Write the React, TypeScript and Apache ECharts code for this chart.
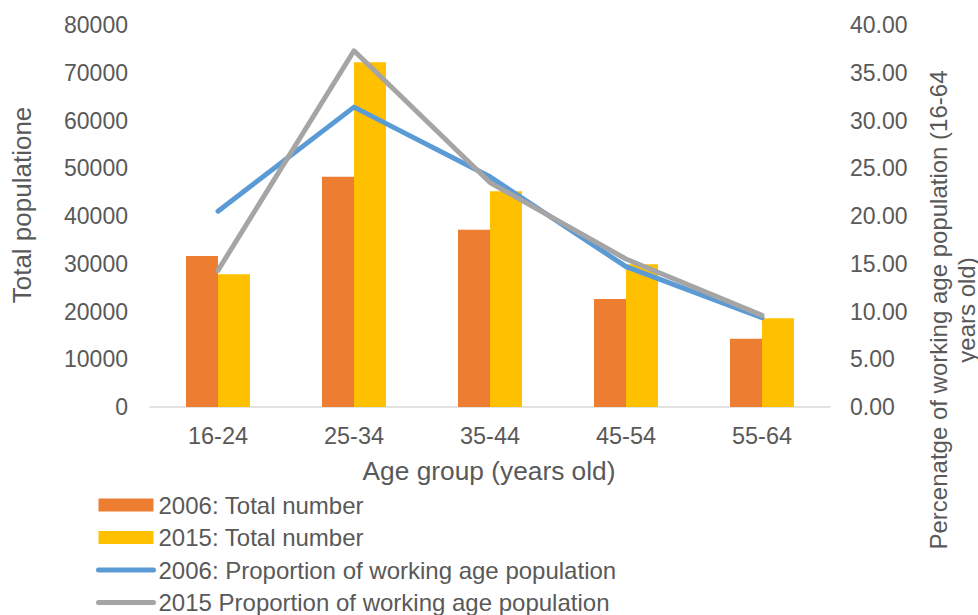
import React, { useEffect, useRef } from "react";
import * as echarts from "echarts";

const categories = ["16-24", "25-34", "35-44", "45-54", "55-64"];
const total2006 = [31600, 48200, 37100, 22600, 14300];
const total2015 = [27800, 72200, 45200, 29900, 18600];
const prop2006 = [20.5, 31.4, 24.1, 14.7, 9.35];
const prop2015 = [14.3, 37.3, 23.5, 15.5, 9.6];

const seriesNames = [
  "2006: Total number",
  "2015: Total number",
  "2006: Proportion of working age population",
  "2015 Proportion of working age population",
];

const FONT = "'Liberation Sans', Arial, sans-serif";
const TXT = "#595959";

export default function App() {
  const ref = useRef<HTMLDivElement>(null);
  useEffect(() => {
    if (!ref.current) return;
    const chart = echarts.init(ref.current, undefined, { renderer: "svg" });
    chart.setOption({
      animation: false,
      backgroundColor: "#ffffff",
      textStyle: { fontFamily: FONT, color: TXT },
      grid: { left: 150, right: 148, top: 25, bottom: 208, containLabel: false },
      legend: {
        orient: "vertical",
        left: 96,
        top: 493,
        padding: 0,
        itemWidth: 55,
        itemHeight: 13,
        itemGap: 8.5,
        textStyle: { fontFamily: FONT, fontSize: 24, color: TXT, lineHeight: 24 },
        data: [
          { name: seriesNames[0], icon: "rect" },
          { name: seriesNames[1], icon: "rect" },
          {
            name: seriesNames[2],
            itemStyle: { opacity: 0 },
            lineStyle: { width: 5, cap: "round", color: "#5B9BD5" },
          },
          {
            name: seriesNames[3],
            itemStyle: { opacity: 0 },
            lineStyle: { width: 5, cap: "round", color: "#A5A5A5" },
          },
        ],
      },
      xAxis: {
        type: "category",
        data: categories,
        axisLine: { show: true, lineStyle: { color: "#D9D9D9", width: 1.5 } },
        axisTick: { show: false },
        axisLabel: { color: TXT, fontSize: 23.5, fontFamily: FONT, margin: 17 },
      },
      yAxis: [
        {
          type: "value",
          min: 0,
          max: 80000,
          interval: 10000,
          axisLine: { show: false },
          axisTick: { show: false },
          splitLine: { show: false },
          axisLabel: {
            color: TXT,
            fontSize: 23,
            fontFamily: FONT,
            margin: 22,
            formatter: (v: number) => String(v),
          },
        },
        {
          type: "value",
          min: 0,
          max: 40,
          interval: 5,
          position: "right",
          axisLine: { show: false },
          axisTick: { show: false },
          splitLine: { show: false },
          axisLabel: {
            color: TXT,
            fontSize: 23,
            fontFamily: FONT,
            margin: 20,
            formatter: (v: number) => v.toFixed(2),
          },
        },
      ],
      graphic: [
        {
          type: "text",
          x: 489,
          y: 471,
          style: {
            text: "Age group (years old)",
            fill: TXT,
            font: `26.3px ${FONT}`,
            textAlign: "center",
            textVerticalAlign: "middle",
          },
        },
        {
          type: "text",
          x: 22,
          y: 205,
          rotation: Math.PI / 2,
          style: {
            text: "Total populatione",
            fill: TXT,
            font: `26px ${FONT}`,
            textAlign: "center",
            textVerticalAlign: "middle",
          },
        },
        {
          type: "text",
          x: 938,
          y: 310,
          rotation: Math.PI / 2,
          style: {
            text: "Percenatge of working age population (16-64",
            fill: TXT,
            font: `24px ${FONT}`,
            textAlign: "center",
            textVerticalAlign: "middle",
          },
        },
        {
          type: "text",
          x: 966,
          y: 310,
          rotation: Math.PI / 2,
          style: {
            text: "years old)",
            fill: TXT,
            font: `24px ${FONT}`,
            textAlign: "center",
            textVerticalAlign: "middle",
          },
        },
      ],
      series: [
        {
          name: seriesNames[0],
          type: "bar",
          data: total2006,
          barWidth: 32,
          barGap: "0%",
          itemStyle: { color: "#ED7D31" },
        },
        {
          name: seriesNames[1],
          type: "bar",
          data: total2015,
          barWidth: 32,
          barGap: "0%",
          itemStyle: { color: "#FFC000" },
        },
        {
          name: seriesNames[2],
          type: "line",
          yAxisIndex: 1,
          data: prop2006,
          symbol: "none",
          lineStyle: { color: "#5B9BD5", width: 5, cap: "round", join: "round" },
          itemStyle: { color: "#5B9BD5" },
        },
        {
          name: seriesNames[3],
          type: "line",
          yAxisIndex: 1,
          data: prop2015,
          symbol: "none",
          lineStyle: { color: "#A5A5A5", width: 5, cap: "round", join: "round" },
          itemStyle: { color: "#A5A5A5" },
        },
      ],
    });
    return () => chart.dispose();
  }, []);
  return <div ref={ref} style={{ width: 978, height: 615, position: "absolute", left: 0, top: 0 }} />;
}
